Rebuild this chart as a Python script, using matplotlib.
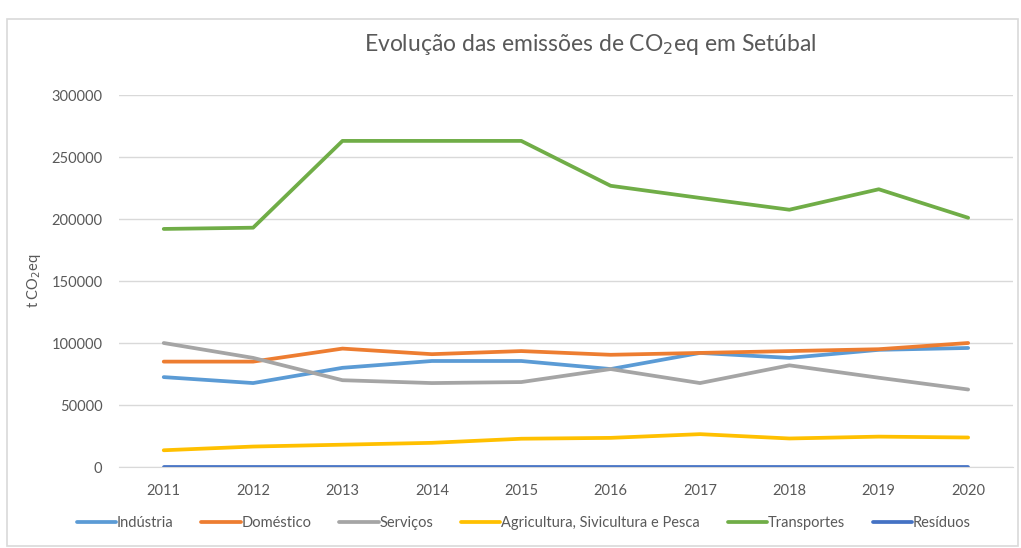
import matplotlib.pyplot as plt
from matplotlib.patches import Rectangle

plt.rcParams['font.family'] = ['Lato', 'DejaVu Sans']

anos = [2011, 2012, 2013, 2014, 2015, 2016, 2017, 2018, 2019, 2020]
industria = [72500, 67700, 80000, 85500, 85500, 79000, 92000, 88000, 94500, 96000]
domestico = [85000, 85000, 95500, 91000, 93500, 90500, 92000, 93500, 95000, 100000]
servicos = [100000, 88000, 70000, 67700, 68500, 79000, 67700, 82000, 72000, 62500]
agricultura = [13500, 16500, 18000, 19500, 22800, 23500, 26500, 23000, 24500, 23800]
transportes = [192000, 193000, 263000, 263000, 263000, 226800, 217000, 207500, 224000, 201000]
residuos = [400, 400, 400, 400, 400, 400, 400, 400, 400, 400]

series = [
    ('Indústria', industria, '#5B9BD5'),
    ('Doméstico', domestico, '#ED7D31'),
    ('Serviços', servicos, '#A5A5A5'),
    ('Agricultura, Sivicultura e Pesca', agricultura, '#FFC000'),
    ('Transportes', transportes, '#70AD47'),
    ('Resíduos', residuos, '#4472C4'),
]

fig = plt.figure(figsize=(10.21, 5.48), dpi=100)
fig.patches.append(Rectangle((0.007, 0.003), 0.99, 0.963, transform=fig.transFigure,
                             fill=False, edgecolor='#D9D9D9', linewidth=1.2))
ax = fig.add_axes([0.1166, 0.1478, 0.8754, 0.6788])

x = list(range(len(anos)))
for nome, vals, cor in series:
    ax.plot(x, vals, color=cor, linewidth=2.7, label=nome, solid_capstyle='round')

ax.set_xlim(-0.5, len(anos) - 0.5)
ax.set_ylim(0, 300000)
ax.set_yticks(range(0, 300001, 50000))
ax.set_xticks(x)
ax.set_xticklabels([str(a) for a in anos])
ax.grid(axis='y', color='#D9D9D9', linewidth=1)
ax.set_axisbelow(True)
for s in ['top', 'right', 'left']:
    ax.spines[s].set_visible(False)
ax.spines['bottom'].set_color('#D9D9D9')
ax.tick_params(axis='both', length=0, colors='#595959', labelsize=10.5)
ax.tick_params(axis='y', pad=12)
ax.tick_params(axis='x', pad=12)
ax.set_ylabel('t CO$_2$eq', color='#595959', fontsize=10.5, labelpad=6)

fig.text(0.578, 0.918, 'Evolução das emissões de CO$_2$eq em Setúbal',
         ha='center', va='center', fontsize=16.5, color='#595959')

fig.legend(loc='center', bbox_to_anchor=(0.513, 0.045), ncol=6, frameon=False,
           fontsize=10.5, handlelength=2.7, handletextpad=0.05, columnspacing=1.9,
           labelcolor='#595959')

fig.savefig('out.png', dpi=100)
